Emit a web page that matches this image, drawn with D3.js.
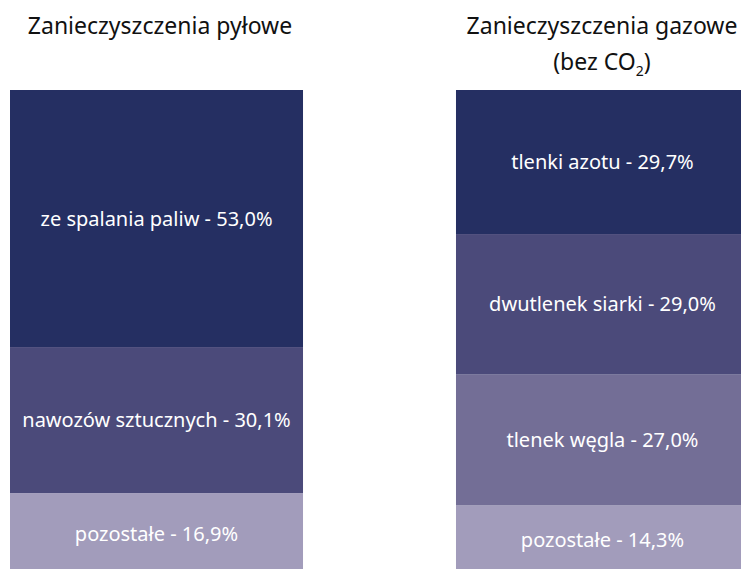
<!DOCTYPE html>
<html>
<head>
<meta charset="utf-8">
<script src="https://cdn.jsdelivr.net/npm/d3@7"></script>
<style>
  html, body { margin: 0; padding: 0; background: #fff; }
  svg { display: block; }
</style>
</head>
<body>
<svg id="chart" width="741" height="569"></svg>
<script>
// ---- data ----
const groups = ["pyłowe", "gazowe"];
const dustLabels = ["ze spalania paliw", "nawozów sztucznych", "pozostałe"];
const dustValues = [53.0, 30.1, 16.9];
const gasLabels = ["tlenki azotu", "dwutlenek siarki", "tlenek węgla", "pozostałe"];
const gasValues = [29.7, 29.0, 27.0, 14.3];
const dustColors = ["#252f62", "#4b4a7a", "#a29cbb"];
const gasColors = ["#252f62", "#4b4a7a", "#736e96", "#a29cbb"];

const svg = d3.select("#chart");
const font = "'Noto Sans', 'Open Sans', sans-serif";

const x = d3.scaleBand().domain(groups).range([10, 749]).paddingInner(0.343).paddingOuter(0);
const y = d3.scaleLinear().domain([0, 100]).range([90, 575]);

function stack(labels, values, colors, group) {
  let acc = 0;
  const segs = values.map((v, i) => {
    const s = { label: labels[i], value: v, y0: acc, y1: acc + v, color: colors[i] };
    acc += v;
    return s;
  });
  const g = svg.append("g");
  g.selectAll("rect").data(segs).join("rect")
    .attr("x", x(group))
    .attr("width", x.bandwidth())
    .attr("y", d => y(d.y0))
    .attr("height", d => y(d.y1) - y(d.y0))
    .attr("fill", d => d.color);
  g.selectAll("text").data(segs).join("text")
    .attr("x", x(group) + x.bandwidth() / 2)
    .attr("y", d => (y(d.y0) + y(d.y1)) / 2)
    .attr("dy", "0.35em")
    .attr("text-anchor", "middle")
    .attr("fill", "#ffffff")
    .style("font-family", font)
    .style("font-size", "20px")
    .text(d => d.label + " - " + d3.format(".1f")(d.value).replace(".", ",") + "%");
}
stack(dustLabels, dustValues, dustColors, "pyłowe");
stack(gasLabels, gasValues, gasColors, "gazowe");

// titles
svg.append("text")
  .attr("x", 160)
  .attr("y", 34)
  .attr("text-anchor", "middle")
  .attr("fill", "#111")
  .style("font-family", font)
  .style("font-size", "23px")
  .text("Zanieczyszczenia pyłowe");

const cx2 = 602;
svg.append("text")
  .attr("x", cx2)
  .attr("y", 34)
  .attr("text-anchor", "middle")
  .attr("fill", "#111")
  .style("font-family", font)
  .style("font-size", "23px")
  .text("Zanieczyszczenia gazowe");
const t2 = svg.append("text")
  .attr("x", cx2)
  .attr("y", 70)
  .attr("text-anchor", "middle")
  .attr("fill", "#111")
  .style("font-family", font)
  .style("font-size", "23px");
t2.append("tspan").text("(bez CO");
t2.append("tspan").attr("dy", 6).style("font-size", "14px").text("2");
t2.append("tspan").attr("dy", -6).text(")");
</script>
</body>
</html>
